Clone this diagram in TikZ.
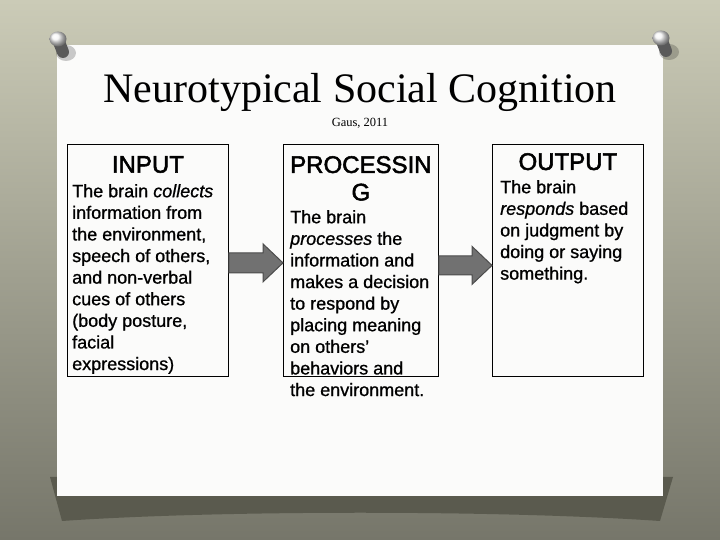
\documentclass[tikz,border=0pt]{standalone}
\usepackage{fontspec}
\setmainfont{Liberation Sans}[FakeBold=0.9]
\newfontfamily\headfont{Liberation Sans}[FakeBold=2.2]
\newfontfamily\titlefont{Liberation Serif}
\usetikzlibrary{positioning,calc}
\definecolor{bgtop}{HTML}{CBCBB7}
\definecolor{bgmid}{HTML}{A2A290}
\definecolor{bgbot}{HTML}{76766A}
\definecolor{shadowc}{HTML}{5A5A4E}
\definecolor{paper}{HTML}{FBFBFA}
\definecolor{arrfill}{HTML}{717171}
\definecolor{arrdraw}{HTML}{4C4C4C}
\tikzset{
  % plain black frame, text set apart from it
  frame/.style  = {rectangle, draw=black, line width=0.8pt, minimum width=#1,
                   minimum height=232pt, anchor=north west, inner sep=0pt},
  head/.style   = {font=\headfont\fontsize{24}{27.5}\selectfont, align=center,
                   inner sep=0pt, anchor=north},
  body/.style   = {font=\fontsize{18}{21.6}\selectfont, align=left,
                   inner sep=0pt, anchor=north west},
  blockarrow/.style = {fill=arrfill, draw=arrdraw, line width=1pt, line join=miter},
  pinhead/.style = {ball color=white!92!gray},
}
\begin{document}
\begin{tikzpicture}[x=1pt,y=1pt]
\useasboundingbox (0,0) rectangle (720,540);
% slide background
\shade[top color=bgtop, middle color=bgmid, bottom color=bgbot] (0,0) rectangle (720,540);
\fill[shadowc] (50,63) -- (673,63) -- (660,19) .. controls (500,30) and (220,30) .. (62,19) -- cycle;
\fill[paper] (57,44) rectangle (663,495);

% pins
\foreach \px/\py in {58/501, 661/502} {
  \fill[black, opacity=.2] (\px+8,\py-14) ellipse (10 and 8);
  \draw[line width=12pt, line cap=round, gray!70!black] (\px+1,\py-3) -- (\px+5,\py-13);
  \shade[pinhead] (\px,\py) ellipse (8.5 and 7.5);
}

% title
\node[font=\titlefont\fontsize{42}{48}\selectfont, anchor=base] (title) at (360,437)
  {Neurotypical Social Cognition};
\node[font=\titlefont\fontsize{12.5}{14}\selectfont, anchor=base] (cite) at (360,413)
  {Gaus, 2011};

% the three stages
\node[frame=161pt] (inp)  at (67,396)  {};
\node[frame=155pt] (proc) at (283,396) {};
\node[frame=151pt] (outp) at (492,396) {};

\node[head] (inph)  at ([yshift=-12pt]inp.north)  {INPUT};
\node[head] (proch) at ([yshift=-12pt]proc.north) {PROCESSIN\\G};
\node[head] (outph) at ([yshift=-9pt]outp.north)  {OUTPUT};

\node[body] (inpt) at ([shift={(5pt,-40pt)}]inp.north west)
  {The brain \textit{collects}\\information from\\the environment,\\speech of others,\\and non-verbal\\cues of others\\(body posture,\\facial\\expressions)};
\node[body] (proct) at ([shift={(7pt,-66pt)}]proc.north west)
  {The brain\\\textit{processes} the\\information and\\makes a decision\\to respond by\\placing meaning\\on others’\\behaviors and\\the environment.};
\node[body] (outpt) at ([shift={(8pt,-36pt)}]outp.north west)
  {The brain\\\textit{responds} based\\on judgment by\\doing or saying\\something.};

% block arrows between the stages
\draw[blockarrow] ([yshift=7.5pt]inp.east) -- ([shift={(-20pt,7.5pt)}]proc.west)
  -- ([shift={(-20pt,16.5pt)}]proc.west) -- ([yshift=-2.5pt]proc.west)
  -- ([shift={(-20pt,-21.5pt)}]proc.west) -- ([shift={(-20pt,-12.5pt)}]proc.west)
  -- ([yshift=-12.5pt]inp.east) -- cycle;
\draw[blockarrow] ([yshift=4.5pt]proc.east) -- ([shift={(-20pt,4.5pt)}]outp.west)
  -- ([shift={(-20pt,14pt)}]outp.west) -- ([yshift=-5pt]outp.west)
  -- ([shift={(-20pt,-24pt)}]outp.west) -- ([shift={(-20pt,-14.5pt)}]outp.west)
  -- ([yshift=-14.5pt]proc.east) -- cycle;
\end{tikzpicture}
\end{document}
